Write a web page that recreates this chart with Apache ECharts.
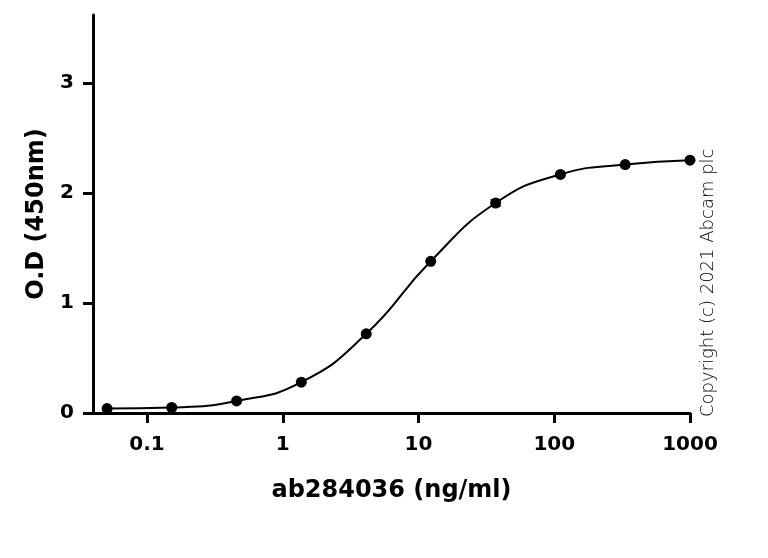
<!DOCTYPE html>
<html>
<head>
<meta charset="utf-8">
<script src="https://cdn.jsdelivr.net/npm/echarts@6/dist/echarts.min.js"></script>
<style>
html, body { margin: 0; padding: 0; background: #fff; }
#chart { width: 768px; height: 558px; }
</style>
</head>
<body>
<div id="chart"></div>
<script>
// concentration (ng/ml), 3-fold dilutions
var conc = [0.0508, 0.152, 0.457, 1.37, 4.12, 12.3, 37.0, 111, 333, 1000];
// O.D 450nm
var od = [0.04, 0.05, 0.11, 0.28, 0.72, 1.38, 1.91, 2.17, 2.26, 2.30];
// error (+/-) per point
var err = [0, 0, 0, 0, 0, 0, 0.03, 0, 0, 0];
var xTicks = [0.1, 1, 10, 100, 1000];
var yTicks = [0, 1, 2, 3];
var xMin = 0.04, xMax = 1000;

// x axis is drawn on log10 of the concentration
var lg = function (v) { return Math.log10(v); };
var pts = conc.map(function (c, i) { return [lg(c), od[i]]; });
var errData = conc.map(function (c, i) { return [lg(c), od[i] - err[i], od[i] + err[i]]; })
	.filter(function (d, i) { return err[i] > 0; });
var xTickPos = xTicks.map(function (v) { return Math.round(lg(v)); });

var font = 'DejaVu Sans';
var chart = echarts.init(document.getElementById('chart'));
chart.setOption({
	animation: false,
	grid: { left: 93, right: 78, top: 15, bottom: 145 },
	xAxis: {
		type: 'value',
		min: lg(xMin),
		max: lg(xMax),
		name: 'ab284036 (ng/ml)',
		nameLocation: 'middle',
		nameGap: 66,
		nameTextStyle: { fontFamily: font, fontWeight: 'bold', fontSize: 24, color: '#000' },
		axisLine: { show: true, onZero: false, lineStyle: { color: '#000', width: 3 } },
		axisTick: {
			show: true, length: 10,
			lineStyle: { color: '#000', width: 3 },
			customValues: xTickPos
		},
		axisLabel: {
			customValues: xTickPos,
			margin: 22,
			fontFamily: font, fontWeight: 'bold', fontSize: 20, color: '#000',
			formatter: function (v) { return String(+Math.pow(10, v).toPrecision(6)); }
		},
		splitLine: { show: false }
	},
	yAxis: {
		type: 'value',
		min: 0,
		max: 3.62,
		name: 'O.D (450nm)',
		nameLocation: 'middle',
		nameGap: 44,
		nameTextStyle: { fontFamily: font, fontWeight: 'bold', fontSize: 24, color: '#000' },
		axisLine: { show: true, onZero: false, lineStyle: { color: '#000', width: 3 } },
		axisTick: { show: true, length: 10, lineStyle: { color: '#000', width: 3 }, customValues: yTicks },
		axisLabel: {
			customValues: yTicks,
			margin: 19,
			fontFamily: font, fontWeight: 'bold', fontSize: 20, color: '#000'
		},
		splitLine: { show: false }
	},
	series: [
		{
			type: 'line',
			data: pts,
			smooth: 0.5,
			symbol: 'circle',
			symbolSize: 11,
			itemStyle: { color: '#000' },
			lineStyle: { color: '#000', width: 2 },
			z: 3
		},
		{
			type: 'custom',
			data: errData,
			renderItem: function (params, api) {
				var lo = api.coord([api.value(0), api.value(1)]);
				var hi = api.coord([api.value(0), api.value(2)]);
				var w = 5;
				return {
					type: 'group',
					children: [
						{ type: 'line', shape: { x1: lo[0], y1: lo[1], x2: hi[0], y2: hi[1] }, style: { stroke: '#000', lineWidth: 1.5 } },
						{ type: 'line', shape: { x1: lo[0] - w, y1: lo[1], x2: lo[0] + w, y2: lo[1] }, style: { stroke: '#000', lineWidth: 1.5 } },
						{ type: 'line', shape: { x1: hi[0] - w, y1: hi[1], x2: hi[0] + w, y2: hi[1] }, style: { stroke: '#000', lineWidth: 1.5 } }
					]
				};
			},
			z: 4
		}
	],
	graphic: [{
		type: 'text',
		x: 699,
		y: 417,
		rotation: Math.PI / 2,
		style: {
			text: 'Copyright (c) 2021 Abcam plc',
			fontFamily: 'DejaVu Sans',
			fontWeight: 200,
			fontSize: 18,
			fill: '#000',
			textAlign: 'left',
			textVerticalAlign: 'top'
		}
	}]
});
</script>
</body>
</html>
